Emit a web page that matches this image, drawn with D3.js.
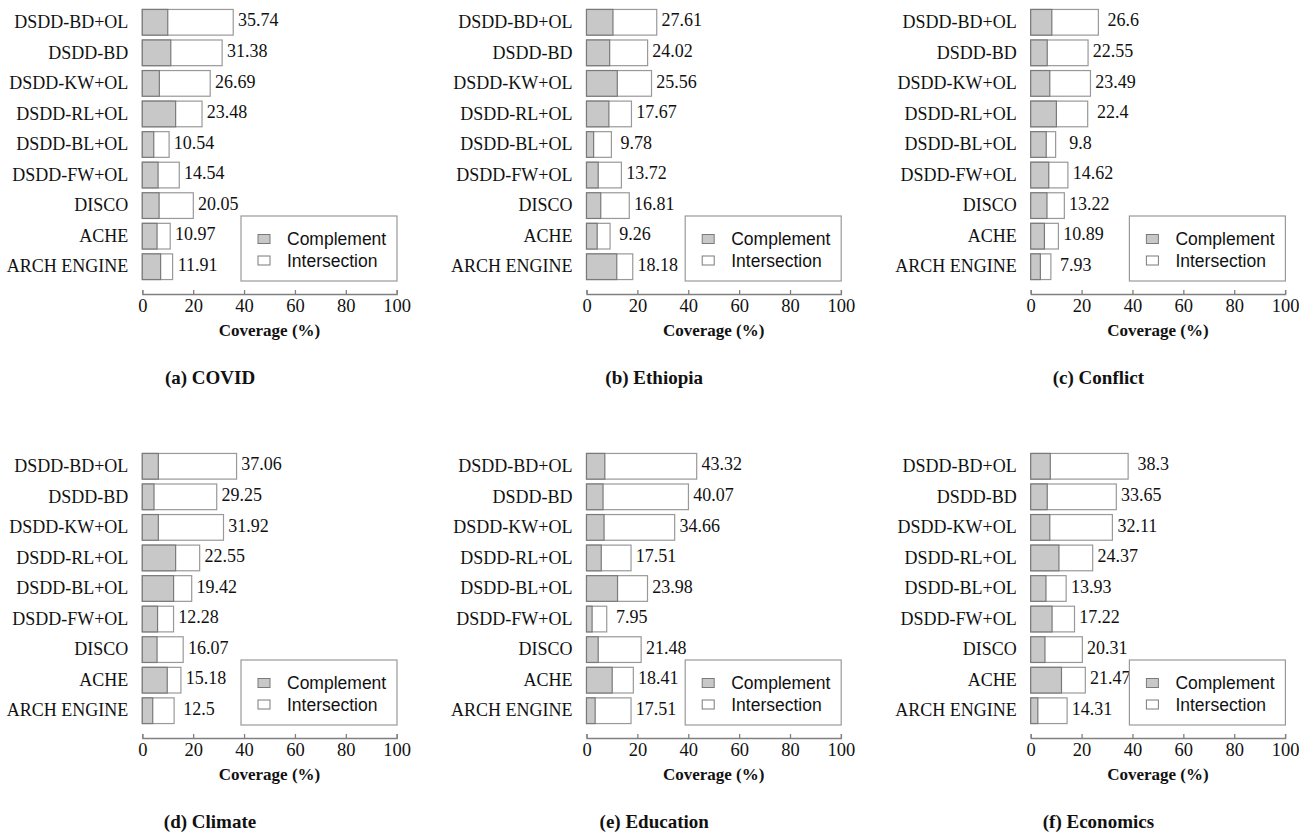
<!DOCTYPE html>
<html>
<head>
<meta charset="utf-8">
<script src="https://cdn.jsdelivr.net/npm/d3@7"></script>
<style>
  body { margin: 0; background: #fff; }
</style>
</head>
<body>
<div id="chart"></div>
<script>
// methods, top to bottom (last label is cropped in the original figure)
var methods = ["DSDD-BD+OL", "DSDD-BD", "DSDD-KW+OL", "DSDD-RL+OL", "DSDD-BL+OL",
    "DSDD-FW+OL", "DISCO", "ACHE", "ARCH ENGINE"];
var captions = ["(a) COVID", "(b) Ethiopia", "(c) Conflict", "(d) Climate", "(e) Education", "(f) Economics"];
var xTicks = [0, 20, 40, 60, 80, 100];
var legendLabels = ["Complement", "Intersection"];

// total coverage (bar length) and the complement part (grey)
var covidTotal = [35.74, 31.38, 26.69, 23.48, 10.54, 14.54, 20.05, 10.97, 11.91];
var covidComplement = [10.0, 11.2, 6.7, 13.1, 4.5, 6.2, 6.6, 5.8, 7.2];
var ethiopiaTotal = [27.61, 24.02, 25.56, 17.67, 9.78, 13.72, 16.81, 9.26, 18.18];
var ethiopiaComplement = [10.4, 9.1, 12.1, 8.8, 2.8, 4.6, 5.6, 4.2, 11.9];
var conflictTotal = [26.6, 22.55, 23.49, 22.4, 9.8, 14.62, 13.22, 10.89, 7.93];
var conflictComplement = [8.3, 6.5, 7.5, 10.1, 6.1, 7.1, 6.4, 5.4, 3.8];
var climateTotal = [37.06, 29.25, 31.92, 22.55, 19.42, 12.28, 16.07, 15.18, 12.5];
var climateComplement = [6.3, 4.6, 6.3, 13.1, 12.3, 6.0, 5.8, 9.8, 4.1];
var educationTotal = [43.32, 40.07, 34.66, 17.51, 23.98, 7.95, 21.48, 18.41, 17.51];
var educationComplement = [7.2, 6.5, 6.9, 5.8, 12.2, 2.2, 4.6, 10.1, 3.4];
var economicsTotal = [38.3, 33.65, 32.11, 24.37, 13.93, 17.22, 20.31, 21.47, 14.31];
var economicsComplement = [7.7, 6.5, 7.5, 11.1, 6.0, 8.4, 5.6, 12.1, 2.8];

var panels = [
    { caption: captions[0], total: covidTotal, comp: covidComplement },
    { caption: captions[1], total: ethiopiaTotal, comp: ethiopiaComplement },
    { caption: captions[2], total: conflictTotal, comp: conflictComplement },
    { caption: captions[3], total: climateTotal, comp: climateComplement },
    { caption: captions[4], total: educationTotal, comp: educationComplement },
    { caption: captions[5], total: economicsTotal, comp: economicsComplement }
];

var serif = "'Liberation Serif', 'Times New Roman', serif",
    sans = "'Liberation Sans', Arial, sans-serif";
var greyFill = "#c8c8c8", edge = "#7a7a7a";

var svg = d3.select("#chart").append("svg")
    .attr("width", 1299)
    .attr("height", 835)
    .style("background-color", "#fff");

// panel-local geometry
var x = d3.scaleLinear().domain([0, 100]).range([142.3, 396.7]);
var y = d3.scaleBand().domain(methods).range([7, 282]).paddingInner(0.16).paddingOuter(0.08);
var axisY = 294;

panels.forEach(function (p, i) {
    var col = i % 3, row = Math.floor(i / 3);
    var g = svg.append("g")
        .attr("transform", "translate(" + (col * 444.2) + "," + (row * 444) + ")");

    var rows = methods.map(function (m, j) {
        return { name: m, total: p.total[j], comp: p.comp[j] };
    });

    // whole bar (intersection, white)
    g.selectAll(".total")
        .data(rows)
        .enter().append("rect")
        .attr("class", "total")
        .attr("x", x(0))
        .attr("y", function (d) { return y(d.name); })
        .attr("width", function (d) { return x(d.total) - x(0); })
        .attr("height", y.bandwidth())
        .attr("fill", "#fff")
        .attr("stroke", "#999")
        .attr("stroke-width", 1.2);

    // complement part, grey
    g.selectAll(".comp")
        .data(rows)
        .enter().append("rect")
        .attr("class", "comp")
        .attr("x", x(0))
        .attr("y", function (d) { return y(d.name); })
        .attr("width", function (d) { return x(d.comp) - x(0); })
        .attr("height", y.bandwidth())
        .attr("fill", greyFill)
        .attr("stroke", edge)
        .attr("stroke-width", 1.2);

    // value labels
    g.selectAll(".val")
        .data(rows)
        .enter().append("text")
        .attr("class", "val")
        .attr("x", function (d) { return x(d.total) + 25; })
        .attr("y", function (d) { return y(d.name) + 17; })
        .style("text-anchor", "middle")
        .attr("font-family", serif)
        .attr("font-size", "18px")
        .attr("fill", "#111")
        .text(function (d) { return d.total; });

    // category labels
    var yAxis = g.append("g")
        .attr("transform", "translate(" + x(0) + ",0)")
        .call(d3.axisLeft(y).tickSize(0).tickPadding(14));
    yAxis.select(".domain").remove();
    yAxis.selectAll("text")
        .attr("font-family", serif)
        .attr("font-size", "18px")
        .attr("fill", "#111");

    // x axis, ticks pointing up
    var xAxis = g.append("g")
        .attr("transform", "translate(0," + axisY + ")")
        .call(d3.axisBottom(x).tickValues(xTicks).tickSize(-4).tickPadding(5));
    xAxis.selectAll("path, line").attr("stroke", "#808080").attr("stroke-width", 1.3);
    xAxis.selectAll("text")
        .attr("font-family", serif)
        .attr("font-size", "18.5px")
        .attr("fill", "#111");

    g.append("text")
        .attr("x", (x(0) + x(100)) / 2)
        .attr("y", 336)
        .style("text-anchor", "middle")
        .attr("font-family", serif)
        .attr("font-size", "17px")
        .attr("font-weight", "700")
        .attr("fill", "#111")
        .text("Coverage (%)");

    g.append("text")
        .attr("x", 210)
        .attr("y", 384)
        .style("text-anchor", "middle")
        .attr("font-family", serif)
        .attr("font-size", "19px")
        .attr("font-weight", "700")
        .attr("fill", "#111")
        .text(p.caption);

    // legend
    var lg = g.append("g");
    lg.append("rect")
        .attr("x", 241).attr("y", 216)
        .attr("width", 156).attr("height", 65)
        .attr("fill", "#fff")
        .attr("stroke", "#999")
        .attr("stroke-width", 1.2);
    legendLabels.forEach(function (name, k) {
        lg.append("rect")
            .attr("x", 258).attr("y", 234.5 + k * 21.5)
            .attr("width", 12).attr("height", 9)
            .attr("fill", k === 0 ? greyFill : "#fff")
            .attr("stroke", edge);
        lg.append("text")
            .attr("x", 287).attr("y", 245 + k * 22)
            .attr("font-family", sans)
            .attr("font-size", "17.5px")
            .attr("fill", "#111")
            .text(name);
    });
});
</script>
</body>
</html>
